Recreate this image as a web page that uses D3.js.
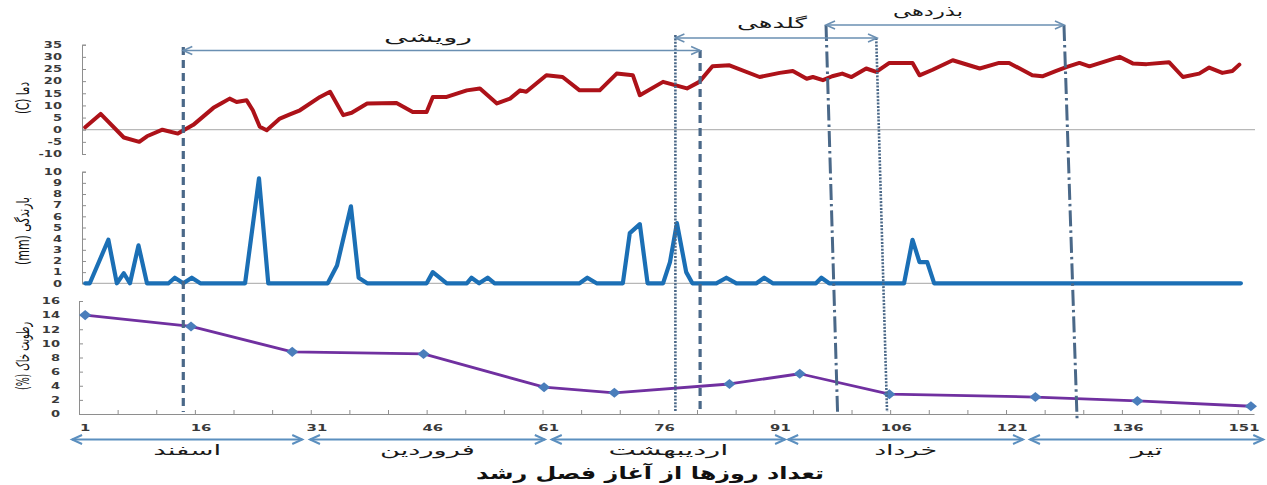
<!DOCTYPE html>
<html><head><meta charset="utf-8">
<script src="https://cdn.jsdelivr.net/npm/d3@7"></script>
<style>body{margin:0;background:#fff}svg{display:block}</style>
</head><body>
<svg id="c" width="1267" height="485"></svg>
<script>
// ---------------- data ----------------
const xTickLabels = [1, 16, 31, 46, 61, 76, 91, 106, 121, 136, 151];
const tempTicks = [-10, -5, 0, 5, 10, 15, 20, 25, 30, 35];
const rainTicks = [0, 1, 2, 3, 4, 5, 6, 7, 8, 9, 10];
const soilTicks = [0, 2, 4, 6, 8, 10, 12, 14, 16];

const tempDays = [1,3,6,8,9,11,13,15,17.6,18.7,19.7,20.6,21.9,22.7,23.6,24.5,26.2,27.5,28.8,31.4,32.7,34.4,35.5,37.5,41.3,43.4,45.2,46,47.8,50.4,52.1,54.3,56,57.3,58.1,60.7,62.8,65,67.6,69.8,71.9,72.8,75.8,78.9,80.5,82.2,84.4,88.3,90.9,92.6,94.4,95.2,96.5,97.7,99,100.2,102.1,103.4,105.1,108.1,109,110.7,113.3,116.8,119.3,120.6,123.6,124.9,126.7,128,129.7,131,134.9,136.6,138.4,141.3,143.1,145.2,146.5,148.2,149.5,150.4];
const tempValues = [1,6.5,-3.2,-5,-2.7,0,-1.6,2,9,11,12.8,11.4,12.1,8,1.2,-0.2,4.6,6.3,8,13.5,15.6,6,7,10.8,11,7.3,7.3,13.5,13.5,16.2,17,10.8,12.8,16.2,15.6,22.4,21.7,16.2,16.2,23.1,22.4,14.2,19.7,17,19.7,26.1,26.5,21.7,23.4,24.2,21,21.7,20.4,22,23.1,21.7,25.2,23.8,27.5,27.5,22.4,24.7,28.6,25.2,27.5,27.5,22.4,22,24.2,25.8,27.5,26.1,30,27.3,27,27.8,21.7,23.1,25.6,23.4,24.2,26.8];

const rainDays = [1,1.6,4,5.1,6,6.8,7.9,9,11.8,12.6,13.7,14.8,15.9,21.7,23.5,24.7,32.4,33.6,35.4,36.4,37.5,45.2,46,47.8,50.4,51,52,53.1,54,65,66,67.2,70.6,71.5,72.8,73.8,75.8,76.7,77.6,78.8,79.6,82.7,84,85.3,87.9,88.9,90,95.6,96.3,97.3,107,108.1,109,110,110.9,150.6];
const rainValues = [0,0,3.9,0,0.9,0,3.4,0,0,0.5,0,0.5,0,0,9.4,0,0,1.6,6.9,0.5,0,0,1.0,0,0,0.5,0,0.5,0,0,0.5,0,0,4.5,5.3,0,0,1.9,5.4,1.0,0,0,0.5,0,0,0.5,0,0,0.5,0,0,3.9,1.9,1.9,0,0];

const soilDays = [1,14.7,27.8,44.8,60.4,69.5,84.4,93.5,105.1,124,137.2,151.9];
const soilValues = [14.0,12.4,8.8,8.5,3.8,3.0,4.25,5.7,2.8,2.4,1.85,1.1];

const monthNames = ["اسفند","فروردین","اردیبهشت","خرداد","تیر"];
const monthStart = [-0.7, 30.1, 61.4, 92.0, 123.3];
const monthEnd = [29.1, 60.5, 91.6, 122.4, 153.5];

const phaseNames = ["رویشی","گلدهی","بذردهی"];
const phaseStart = [13.7, 77.4, 96.9];
const phaseEnd = [80.6, 103.5, 127.7];

const boundaryTopDays = [13.7, 77.4, 80.6, 96.9, 103.4, 127.7];
const boundaryBottomDays = [13.7, 77.4, 80.6, 98.4, 104.8, 129.4];
const boundaryKinds = ["dashed","dotted","dashed","dashdot","dotted","dashdot"];

const axisTitles = ["دما (C)","بارندگی (mm)","رطوبت خاک (%)"];
const xTitle = "تعداد روزها از آغاز فصل رشد";

// ---------------- layout ----------------
const svg = d3.select("#c");
const FA = "'DejaVu Sans', sans-serif";
const x = d3.scaleLinear().domain([0.2, 152.3]).range([79, 1254]);
const yT = d3.scaleLinear().domain([-10, 35]).range([154, 44.7]);
const yR = d3.scaleLinear().domain([0, 10]).range([283.3, 171.7]);
const yS = d3.scaleLinear().domain([0, 16]).range([414, 301]);
const axisGray = "#8e8e8e";

function fitText(sel, w, rot) {
  const n = sel.node();
  const cur = n.getComputedTextLength();
  const s = cur > 0 ? w / cur : 1;
  const base = sel.attr("data-t");
  sel.attr("transform", base + (rot ? " rotate(-90)" : "") + ` scale(${s},1)`);
}
function placeText(g, px, py, str, opts) {
  const t = g.append("text")
    .attr("data-t", `translate(${px},${py})`)
    .attr("transform", `translate(${px},${py})`)
    .attr("text-anchor", opts.anchor || "middle")
    .attr("font-family", opts.family || FA)
    .attr("font-size", opts.size)
    .attr("font-weight", opts.weight || "normal")
    .attr("fill", opts.fill || "#111")
    .text(str);
  if (opts.rtl) t.attr("direction", "rtl").attr("unicode-bidi", "embed");
  if (opts.width) fitText(t, opts.width, opts.rot);
  else t.attr("transform", `translate(${px},${py})` + (opts.rot ? " rotate(-90)" : "") + (opts.sx ? ` scale(${opts.sx},1)` : ""));
  return t;
}

// ---------- top panel: temperature ----------
const gT = svg.append("g");
gT.append("line").attr("x1", 82).attr("x2", 1255).attr("y1", yT(0)).attr("y2", yT(0))
  .attr("stroke", "#a6a6a6").attr("stroke-width", 1);
const axT = gT.append("g").attr("transform", "translate(82,0)")
  .call(d3.axisRight(yT).tickValues(tempTicks).tickSize(4).tickSizeOuter(4).tickFormat(""));
axT.selectAll("path,line").attr("stroke", axisGray);
tempTicks.forEach(v => placeText(gT, 62, yT(v) + 3.3, String(v), {anchor: "end", size: 9, weight: "bold", fill: "#3a3a3a", sx: 1.45}));
const tempPts = tempDays.map((d, i) => [d, tempValues[i]]);
gT.append("path").datum(tempPts)
  .attr("d", d3.line().x(d => x(d[0])).y(d => yT(d[1])))
  .attr("fill", "none").attr("stroke", "#ad1219").attr("stroke-width", 4)
  .attr("stroke-linejoin", "round").attr("stroke-linecap", "round");

// ---------- middle panel: rain ----------
const gR = svg.append("g");
gR.append("line").attr("x1", 82).attr("x2", 1243).attr("y1", yR(0)).attr("y2", yR(0))
  .attr("stroke", "#a6a6a6").attr("stroke-width", 1);
const axR = gR.append("g").attr("transform", "translate(82,0)")
  .call(d3.axisRight(yR).tickValues(rainTicks).tickSize(4).tickSizeOuter(4).tickFormat(""));
axR.selectAll("path,line").attr("stroke", axisGray);
rainTicks.forEach(v => placeText(gR, 62, yR(v) + 3.3, String(v), {anchor: "end", size: 9, weight: "bold", fill: "#3a3a3a", sx: 1.45}));
const rainPts = rainDays.map((d, i) => [d, rainValues[i]]);
gR.append("path").datum(rainPts)
  .attr("d", d3.line().x(d => x(d[0])).y(d => yR(d[1])))
  .attr("fill", "none").attr("stroke", "#1b6fb5").attr("stroke-width", 4.2)
  .attr("stroke-linejoin", "round").attr("stroke-linecap", "round");

// ---------- bottom panel: soil moisture ----------
const gS = svg.append("g");
const axS = gS.append("g").attr("transform", "translate(79,0)")
  .call(d3.axisRight(yS).tickValues(soilTicks).tickSize(4).tickSizeOuter(0).tickFormat(""));
axS.selectAll("path,line").attr("stroke", axisGray);
soilTicks.forEach(v => placeText(gS, 60, yS(v) + 3.3, String(v), {anchor: "end", size: 9, weight: "bold", fill: "#3a3a3a", sx: 1.45}));
const axX = gS.append("g").attr("transform", `translate(0,${yS(0)})`)
  .call(d3.axisTop(x).tickValues(d3.range(5.2, 153, 5)).tickSize(4).tickSizeOuter(0).tickFormat(""));
axX.selectAll("path,line").attr("stroke", axisGray);
xTickLabels.forEach(v => placeText(gS, x(v), 431, String(v), {size: 8.5, weight: "bold", fill: "#3a3a3a", sx: 1.75}));

// ---------- phase boundary lines ----------
const bTop = [47, 35, 50, 25, 38, 25];
const bBot = [412, 412, 412, 414, 412, 420];
const dashes = {dashed: "8,5", dotted: "2,1.4", dashdot: "16,4,2.5,4"};
const widths = {dashed: 3.2, dotted: 2.6, dashdot: 3};
const gB = svg.append("g");
boundaryKinds.forEach((k, i) => {
  gB.append("line")
    .attr("x1", x(boundaryTopDays[i])).attr("x2", x(boundaryBottomDays[i]))
    .attr("y1", bTop[i]).attr("y2", bBot[i])
    .attr("stroke", "#4a6888").attr("stroke-width", widths[k])
    .attr("stroke-dasharray", dashes[k]);
});

// ---------- soil line drawn above boundaries ----------
const soilPts = soilDays.map((d, i) => [d, soilValues[i]]);
gS.append("path").datum(soilPts)
  .attr("d", d3.line().x(d => x(d[0])).y(d => yS(d[1])))
  .attr("fill", "none").attr("stroke", "#7030a0").attr("stroke-width", 2.8)
  .attr("stroke-linejoin", "round");
gS.selectAll("path.dia").data(soilPts).enter().append("path").attr("class", "dia")
  .attr("d", d3.symbol(d3.symbolSquare, 56)())
  .attr("transform", d => `translate(${x(d[0])},${yS(d[1])}) scale(1.15,0.95) rotate(45)`)
  .attr("fill", "#4a7ebb");

// ---------- double-headed arrows ----------
function dArrow(g, x0, x1, y, color, w, head) {
  g.append("line").attr("x1", x0).attr("x2", x1).attr("y1", y).attr("y2", y)
    .attr("stroke", color).attr("stroke-width", w);
  const hl = head[0], hh = head[1];
  g.append("polyline").attr("points", `${x0 + hl},${y - hh} ${x0},${y} ${x0 + hl},${y + hh}`)
    .attr("fill", "none").attr("stroke", color).attr("stroke-width", w);
  g.append("polyline").attr("points", `${x1 - hl},${y - hh} ${x1},${y} ${x1 - hl},${y + hh}`)
    .attr("fill", "none").attr("stroke", color).attr("stroke-width", w);
}
const gP = svg.append("g");
const phaseY = [50.5, 38, 25];
const phaseLabelPos = [[428, 42, 88], [772, 28, 70], [928, 16, 70]];
phaseNames.forEach((nm, i) => {
  dArrow(gP, x(phaseStart[i]), x(phaseEnd[i]), phaseY[i], "#6a8fb2", 1.6, [9, 4]);
  placeText(gP, phaseLabelPos[i][0], phaseLabelPos[i][1], nm, {size: 14, width: phaseLabelPos[i][2], fill: "#1a1a1a", rtl: true});
});

// ---------- months ----------
const gM = svg.append("g");
const monthLabelW = [68, 95, 120, 63, 32];
monthNames.forEach((nm, i) => {
  dArrow(gM, x(monthStart[i]), x(monthEnd[i]), 439.5, "#5b8fbf", 2, [10, 4.5]);
  placeText(gM, (x(monthStart[i]) + x(monthEnd[i])) / 2, 455, nm, {size: 14, width: monthLabelW[i], fill: "#1a1a1a", rtl: true});
});

// ---------- titles ----------
placeText(svg, 650, 479, xTitle, {size: 17, weight: "bold", width: 348, fill: "#111", rtl: true});
const ytPos = [[29, 98, 32], [29, 231, 68], [29, 356, 68]];
axisTitles.forEach((t, i) => placeText(svg, ytPos[i][0], ytPos[i][1], t, {size: 17, width: ytPos[i][2], rot: true, fill: "#111", rtl: true}));
</script>
</body></html>
